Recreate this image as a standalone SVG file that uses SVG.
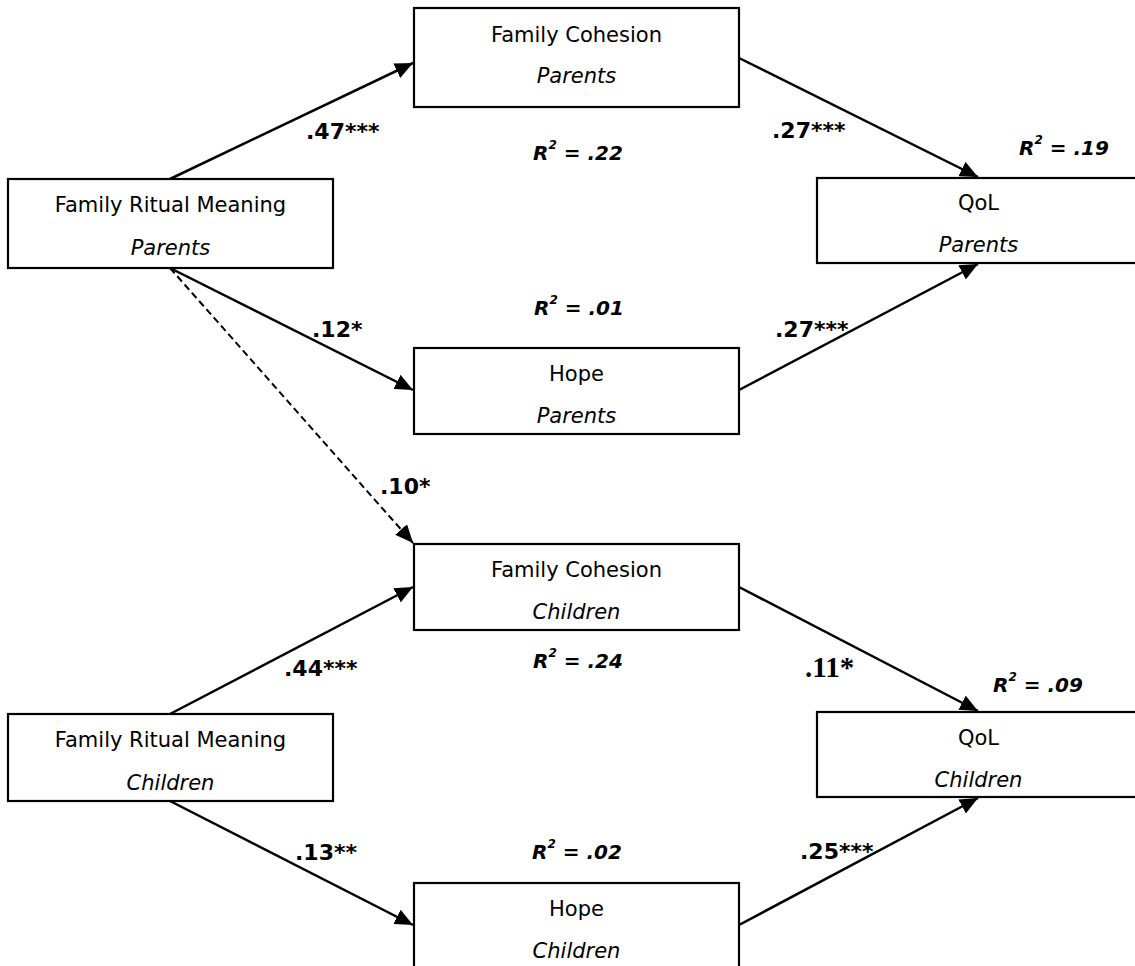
<svg xmlns="http://www.w3.org/2000/svg" width="1135" height="966" viewBox="0 0 1135 966">
<style>
.box{fill:#fff;stroke:#000;stroke-width:2.2}
.t{font-family:"DejaVu Sans","Liberation Sans",sans-serif;font-size:21px;text-anchor:middle;fill:#000}
.i{font-style:italic}
.c{fill:none;stroke:#000;stroke-width:2.5}
.d{stroke-dasharray:7 4;stroke-width:2}
.w{font-family:"DejaVu Sans","Liberation Sans",sans-serif;font-size:22px;font-weight:bold;fill:#000}
.r{font-family:"DejaVu Sans","Liberation Sans",sans-serif;font-size:20px;font-weight:bold;font-style:italic;fill:#000}
.s{font-size:12px}
.tm{font-family:"Liberation Serif",serif;font-size:29px;font-weight:bold;fill:#000}
</style>
<defs>
<marker id="ah" markerUnits="userSpaceOnUse" markerWidth="20" markerHeight="16" refX="18" refY="8" orient="auto">
<path d="M0,0 L18,8 L0,16 z" fill="#000"/>
</marker>
</defs>
<g id="connectors">
<line class="c" x1="170" y1="179" x2="413" y2="63" marker-end="url(#ah)"/>
<line class="c" x1="739" y1="58" x2="978" y2="177" marker-end="url(#ah)"/>
<line class="c" x1="170" y1="268" x2="413" y2="390" marker-end="url(#ah)"/>
<line class="c" x1="739" y1="390" x2="978" y2="264" marker-end="url(#ah)"/>
<line class="c d" x1="170" y1="268" x2="413" y2="543" marker-end="url(#ah)"/>
<line class="c" x1="170" y1="714" x2="413" y2="587" marker-end="url(#ah)"/>
<line class="c" x1="739" y1="587" x2="978" y2="711" marker-end="url(#ah)"/>
<line class="c" x1="170" y1="801" x2="413" y2="925" marker-end="url(#ah)"/>
<line class="c" x1="739" y1="925" x2="978" y2="798" marker-end="url(#ah)"/>
</g>
<g id="frm-parents">
<rect class="box" x="8" y="179" width="325" height="89"/>
<text class="t" x="170.5" y="212">Family Ritual Meaning</text>
<text class="t i" x="170.5" y="255">Parents</text>
</g>
<g id="fc-parents">
<rect class="box" x="414" y="8" width="325" height="99"/>
<text class="t" x="576.5" y="42">Family Cohesion</text>
<text class="t i" x="576.5" y="83">Parents</text>
</g>
<g id="qol-parents">
<rect class="box" x="817" y="178" width="325" height="85"/>
<text class="t" x="978.5" y="210">QoL</text>
<text class="t i" x="978.5" y="252">Parents</text>
</g>
<g id="hope-parents">
<rect class="box" x="414" y="348" width="325" height="86"/>
<text class="t" x="576.5" y="381">Hope</text>
<text class="t i" x="576.5" y="423">Parents</text>
</g>
<g id="fc-children">
<rect class="box" x="414" y="544" width="325" height="86"/>
<text class="t" x="576.5" y="577">Family Cohesion</text>
<text class="t i" x="576.5" y="619">Children</text>
</g>
<g id="frm-children">
<rect class="box" x="8" y="714" width="325" height="87"/>
<text class="t" x="170.5" y="747">Family Ritual Meaning</text>
<text class="t i" x="170.5" y="790">Children</text>
</g>
<g id="qol-children">
<rect class="box" x="817" y="712" width="325" height="85"/>
<text class="t" x="978.5" y="745">QoL</text>
<text class="t i" x="978.5" y="787">Children</text>
</g>
<g id="hope-children">
<rect class="box" x="414" y="883" width="325" height="90"/>
<text class="t" x="576.5" y="916">Hope</text>
<text class="t i" x="576.5" y="958">Children</text>
</g>
<g id="labels">
<text class="w" x="306" y="139">.47***</text>
<text class="w" x="772" y="138">.27***</text>
<text class="w" x="312" y="337">.12*</text>
<text class="w" x="775" y="337">.27***</text>
<text class="w" x="380" y="494">.10*</text>
<text class="w" x="284" y="676">.44***</text>
<text class="tm" x="805" y="677">.11*</text>
<text class="w" x="295" y="860">.13**</text>
<text class="w" x="800" y="859">.25***</text>
<text class="r" x="533" y="160">R<tspan class="s" dy="-11">2</tspan><tspan dy="11"> = .22</tspan></text>
<text class="r" x="1019" y="155">R<tspan class="s" dy="-11">2</tspan><tspan dy="11"> = .19</tspan></text>
<text class="r" x="534" y="315">R<tspan class="s" dy="-11">2</tspan><tspan dy="11"> = .01</tspan></text>
<text class="r" x="533" y="668">R<tspan class="s" dy="-11">2</tspan><tspan dy="11"> = .24</tspan></text>
<text class="r" x="993" y="692">R<tspan class="s" dy="-11">2</tspan><tspan dy="11"> = .09</tspan></text>
<text class="r" x="532" y="859">R<tspan class="s" dy="-11">2</tspan><tspan dy="11"> = .02</tspan></text>
</g>
</svg>
